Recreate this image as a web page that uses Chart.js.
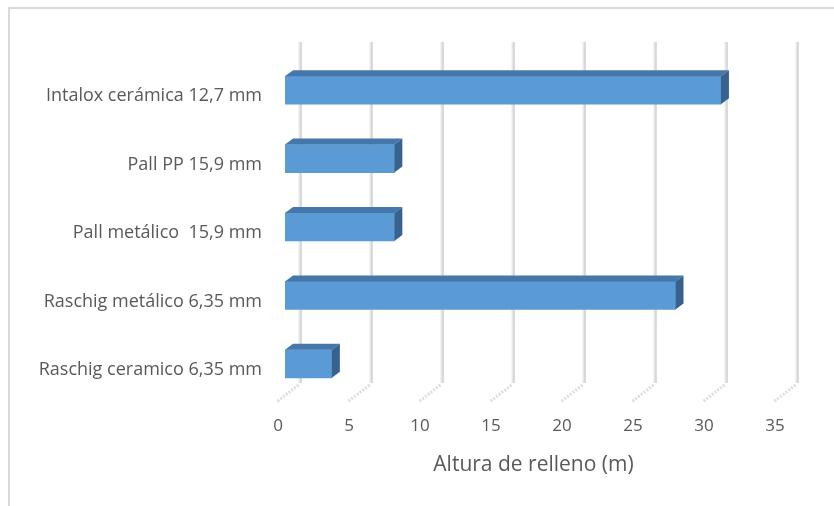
<!DOCTYPE html>
<html>
<head>
<meta charset="utf-8">
<script src="https://cdn.jsdelivr.net/npm/chart.js@4.4.1/dist/chart.umd.min.js"></script>
<style>
  html, body { margin: 0; padding: 0; background: #ffffff; }
  #wrap { position: relative; width: 834px; height: 506px; }
</style>
</head>
<body>
<div id="wrap"><canvas id="chart" width="834" height="506"></canvas></div>
<script>
// Packing types (top to bottom) and the bed height each one needs
const categories = [
  'Intalox cerámica 12,7 mm',
  'Pall PP 15,9 mm',
  'Pall metálico  15,9 mm',
  'Raschig metálico 6,35 mm',
  'Raschig ceramico 6,35 mm'
];
const alturas = [30.7, 7.7, 7.7, 27.5, 3.3];
const xTicks = [0, 5, 10, 15, 20, 25, 30, 35];
const xTitle = 'Altura de relleno (m)';

const TEXT = '#595959';
const FONT = '"Open Sans", Lato, sans-serif';

// depth of the pseudo-3D boxes (front face -> back face)
const DEPTH_X = 8, DEPTH_Y = 6;
// the back wall sits a little further back than the bars
const WALL_X = 15, WALL_TOP = 42, WALL_BOTTOM = 383;

const frame3d = {
  id: 'frame3d',
  beforeDraw(chart) {
    const ctx = chart.ctx;
    ctx.save();
    // outer chart frame
    ctx.strokeStyle = '#d9d9d9';
    ctx.lineWidth = 2;
    ctx.beginPath();
    ctx.moveTo(9, 506);
    ctx.lineTo(9, 8);
    ctx.lineTo(834, 8);
    ctx.stroke();
    ctx.restore();
  },
  beforeDatasetsDraw(chart) {
    const ctx = chart.ctx;
    const xs = chart.scales.x;
    ctx.save();
    xTicks.forEach(v => {
      const gx = Math.round(xs.getPixelForValue(v) + WALL_X) + 0.5;
      // back-wall gridline (soft double stroke)
      ctx.strokeStyle = '#e8e8e8';
      ctx.lineWidth = 3;
      ctx.beginPath();
      ctx.moveTo(gx - 0.5, WALL_TOP);
      ctx.lineTo(gx - 0.5, WALL_BOTTOM);
      ctx.stroke();
      ctx.strokeStyle = '#c4c4c4';
      ctx.lineWidth = 1;
      ctx.beginPath();
      ctx.moveTo(gx + 0.5, WALL_TOP);
      ctx.lineTo(gx + 0.5, WALL_BOTTOM);
      ctx.stroke();
      // floor line running toward the viewer
      ctx.strokeStyle = 'rgba(190,190,190,0.5)';
      ctx.lineWidth = 3;
      ctx.setLineDash([2, 1.5]);
      ctx.beginPath();
      ctx.moveTo(gx - 2, WALL_BOTTOM + 2);
      ctx.lineTo(gx - 24, WALL_BOTTOM + 19);
      ctx.stroke();
      ctx.setLineDash([]);
    });
    ctx.restore();
  },
  afterDatasetsDraw(chart) {
    const ctx = chart.ctx;
    const meta = chart.getDatasetMeta(0);
    ctx.save();
    meta.data.forEach(bar => {
      const p = bar.getProps(['x', 'y', 'base', 'height'], true);
      const x0 = p.base, x1 = p.x;
      const yt = p.y - p.height / 2, yb = p.y + p.height / 2;
      // top face
      ctx.fillStyle = '#4677aa';
      ctx.beginPath();
      ctx.moveTo(x0, yt);
      ctx.lineTo(x0 + DEPTH_X, yt - DEPTH_Y);
      ctx.lineTo(x1 + DEPTH_X, yt - DEPTH_Y);
      ctx.lineTo(x1, yt);
      ctx.closePath();
      ctx.fill();
      // right face
      ctx.fillStyle = '#38628e';
      ctx.beginPath();
      ctx.moveTo(x1, yt);
      ctx.lineTo(x1 + DEPTH_X, yt - DEPTH_Y);
      ctx.lineTo(x1 + DEPTH_X, yb - DEPTH_Y);
      ctx.lineTo(x1, yb);
      ctx.closePath();
      ctx.fill();
    });
    ctx.restore();
  }
};

new Chart(document.getElementById('chart'), {
  type: 'bar',
  data: {
    labels: categories,
    datasets: [{
      data: alturas,
      backgroundColor: '#5b9bd5',
      borderWidth: 0,
      barThickness: 28
    }]
  },
  options: {
    indexAxis: 'y',
    responsive: false,
    animation: false,
    layout: { padding: { left: 0, right: 52, top: 56, bottom: 8 } },
    plugins: { legend: { display: false }, tooltip: { enabled: false } },
    scales: {
      x: {
        min: 0,
        max: 35,
        afterBuildTicks(scale) { scale.ticks = xTicks.map(v => ({ value: v })); },
        afterFit(scale) { scale.height = 100; },
        grid: { display: false, drawTicks: false },
        border: { display: false },
        ticks: {
          color: TEXT,
          font: { family: FONT, size: 17 },
          padding: 18,
          labelOffset: -7,
          maxRotation: 0
        },
        title: {
          display: true,
          text: xTitle,
          color: TEXT,
          font: { family: FONT, size: 21 },
          padding: 20
        }
      },
      y: {
        afterFit(scale) { scale.width = 285; },
        grid: { display: false, drawTicks: false },
        border: { display: false },
        ticks: {
          color: TEXT,
          font: { family: FONT, size: 18 },
          padding: 23,
          labelOffset: 6
        }
      }
    }
  },
  plugins: [frame3d]
});
</script>
</body>
</html>
